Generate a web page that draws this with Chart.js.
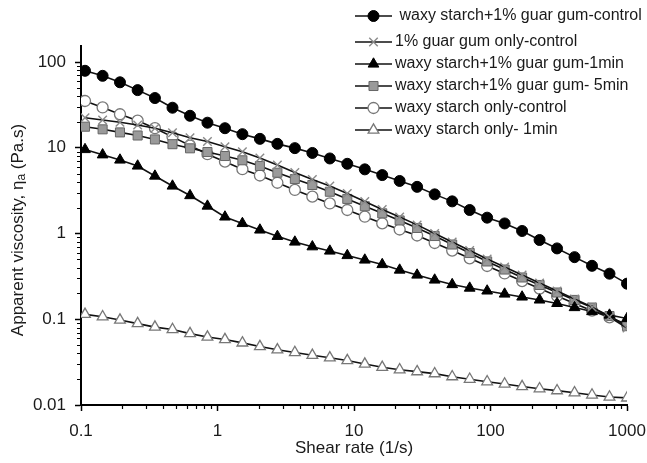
<!DOCTYPE html>
<html>
<head>
<meta charset="utf-8">
<script src="https://cdn.jsdelivr.net/npm/chart.js@4.4.0/dist/chart.umd.min.js"></script>
<style>
  body { margin: 0; background: #fff; }
  #wrap { width: 647px; height: 463px; }
</style>
</head>
<body>
<div id="wrap"><canvas id="viscosityChart" width="647" height="463"></canvas></div>
<script>
// shear rate (1/s)
const shearRate = [0.107, 0.144, 0.193, 0.260, 0.348, 0.468, 0.629, 0.844, 1.134, 1.522, 2.045, 2.746, 3.687, 4.953, 6.651, 8.93,
  12.0, 16.1, 21.6, 29.0, 39.0, 52.4, 70.4, 94.5, 126.9, 170.4, 228.8, 307.3, 412.7, 554.2, 744.3, 1000];

// apparent viscosity (Pa.s)
const waxyGuarControl = [79, 69, 58, 47, 38, 29.3, 23.6, 19.6, 16.9, 14.4, 12.7, 11.1, 9.9, 8.7, 7.5, 6.5,
  5.6, 4.8, 4.1, 3.5, 2.86, 2.37, 1.88, 1.53, 1.31, 1.07, 0.84, 0.67, 0.53, 0.42, 0.34, 0.26];
const guarOnlyControl = [22.4, 21.1, 19.8, 18.4, 16.9, 15.0, 13.1, 11.8, 10.3, 9.0, 7.6, 6.29, 5.14, 4.26, 3.58, 2.93,
  2.36, 1.91, 1.56, 1.26, 1.00, 0.796, 0.633, 0.504, 0.407, 0.328, 0.265, 0.214, 0.172, 0.139, 0.106, 0.079];
const waxyGuar1min = [9.54, 8.28, 7.20, 6.13, 4.68, 3.58, 2.77, 2.09, 1.56, 1.31, 1.10, 0.927, 0.796, 0.701, 0.625, 0.554,
  0.491, 0.435, 0.375, 0.328, 0.287, 0.254, 0.231, 0.214, 0.197, 0.182, 0.168, 0.153, 0.137, 0.123, 0.112, 0.102];
const waxyGuar5min = [17.6, 16.4, 15.1, 13.9, 12.5, 11.0, 9.85, 8.92, 8.01, 7.14, 6.13, 5.12, 4.32, 3.68, 3.07, 2.53,
  2.08, 1.72, 1.42, 1.16, 0.935, 0.744, 0.592, 0.472, 0.380, 0.307, 0.251, 0.205, 0.168, 0.137, 0.109, 0.083];
const waxyOnlyControl = [35.1, 29.5, 24.6, 20.7, 16.9, 13.4, 10.6, 8.41, 6.88, 5.62, 4.75, 3.91, 3.22, 2.69, 2.24, 1.88,
  1.57, 1.315, 1.113, 0.948, 0.775, 0.633, 0.514, 0.418, 0.342, 0.279, 0.228, 0.187, 0.153, 0.126, 0.105, 0.087];
const waxyOnly1min = [0.114, 0.107, 0.098, 0.089, 0.081, 0.076, 0.068, 0.062, 0.058, 0.053, 0.048, 0.044, 0.041, 0.038, 0.0355, 0.033,
  0.030, 0.0275, 0.0258, 0.0245, 0.0232, 0.0214, 0.020, 0.0187, 0.0176, 0.0164, 0.0155, 0.0147, 0.0139, 0.0131, 0.0124, 0.0121];

const seriesLabels = [
  ' waxy starch+1% guar gum-control',
  '1% guar gum only-control',
  'waxy starch+1% guar gum-1min',
  'waxy starch+1% guar gum- 5min',
  'waxy starch only-control',
  'waxy starch only- 1min'
];
const xTicks = [0.1, 1, 10, 100, 1000];
const yTicks = [0.01, 0.1, 1, 10, 100];

const FONT = "'Liberation Sans', Arial, sans-serif";

const toPoints = (vals) => vals.map((v, i) => ({ x: shearRate[i], y: v }));

// marker looks per series
const markers = [
  { pointStyle: 'circle', radius: 5.5, fill: '#000', stroke: '#000', bw: 1 },
  { pointStyle: 'crossRot', radius: 6, fill: '#999', stroke: '#8a8a8a', bw: 1.4 },
  { pointStyle: 'triangle', radius: 6.2, fill: '#000', stroke: '#000', bw: 1 },
  { pointStyle: 'rect', radius: 6.4, fill: '#9a9a9a', stroke: '#666', bw: 1 },
  { pointStyle: 'circle', radius: 5.5, fill: '#fff', stroke: '#777', bw: 1.3 },
  { pointStyle: 'triangle', radius: 6.2, fill: '#fff', stroke: '#777', bw: 1.3 }
];
const seriesValues = [waxyGuarControl, guarOnlyControl, waxyGuar1min, waxyGuar5min, waxyOnlyControl, waxyOnly1min];

const datasets = seriesValues.map((vals, i) => ({
  label: seriesLabels[i],
  data: toPoints(vals),
  borderColor: '#111',
  borderWidth: 1.6,
  tension: 0,
  pointStyle: markers[i].pointStyle,
  pointRadius: markers[i].radius,
  pointBackgroundColor: markers[i].fill,
  pointBorderColor: markers[i].stroke,
  pointBorderWidth: markers[i].bw
}));

// minor ticks, y title with subscript, and the legend in the corner
const extrasPlugin = {
  id: 'extras',
  afterDraw(chart) {
    const ctx = chart.ctx;
    const xs = chart.scales.x, ys = chart.scales.y;
    const area = chart.chartArea;
    ctx.save();
    ctx.strokeStyle = '#000';
    ctx.lineWidth = 1.2;
    ctx.beginPath();
    for (let d = -1; d <= 2; d++) {
      for (let m = 2; m <= 9; m++) {
        const px = Math.round(xs.getPixelForValue(m * Math.pow(10, d))) + 0.5;
        ctx.moveTo(px, area.bottom);
        ctx.lineTo(px, area.bottom + 4);
      }
    }
    for (let d = -2; d <= 1; d++) {
      for (let m = 2; m <= 9; m++) {
        const py = Math.round(ys.getPixelForValue(m * Math.pow(10, d))) + 0.5;
        ctx.moveTo(area.left - 4, py);
        ctx.lineTo(area.left, py);
      }
    }
    ctx.stroke();

    // y axis title
    ctx.fillStyle = '#1a1a1a';
    ctx.translate(18, 230);
    ctx.rotate(-Math.PI / 2);
    const big = '17px ' + FONT, small = '12px ' + FONT;
    const t1 = 'Apparent viscosity, \u03b7', t2 = 'a', t3 = ' (Pa.s)';
    ctx.font = big;
    const w1 = ctx.measureText(t1).width, w3 = ctx.measureText(t3).width;
    ctx.font = small;
    const w2 = ctx.measureText(t2).width;
    let tx = -(w1 + w2 + w3) / 2;
    ctx.textBaseline = 'middle';
    ctx.textAlign = 'left';
    ctx.font = big;
    ctx.fillText(t1, tx, 0);
    tx += w1;
    ctx.font = small;
    ctx.fillText(t2, tx, 4);
    tx += w2;
    ctx.font = big;
    ctx.fillText(t3, tx, 0);
    ctx.restore();

    // legend
    ctx.save();
    const rows = [16, 42, 64, 86, 108, 130];
    ctx.font = '16px ' + FONT;
    ctx.textBaseline = 'middle';
    ctx.textAlign = 'left';
    datasets.forEach((ds, i) => {
      const y = rows[i];
      ctx.strokeStyle = '#111';
      ctx.lineWidth = 1.6;
      ctx.beginPath();
      ctx.moveTo(355, y);
      ctx.lineTo(392, y);
      ctx.stroke();
      ctx.fillStyle = markers[i].fill;
      ctx.strokeStyle = markers[i].stroke;
      ctx.lineWidth = markers[i].bw;
      Chart.helpers.drawPoint(ctx, { pointStyle: markers[i].pointStyle, radius: markers[i].radius, rotation: 0, borderWidth: markers[i].bw }, 373.5, y);
      ctx.fillStyle = '#1a1a1a';
      ctx.fillText(ds.label, 395, y);
    });
    ctx.restore();
  }
};

new Chart(document.getElementById('viscosityChart'), {
  type: 'line',
  data: { datasets: datasets },
  options: {
    responsive: false,
    animation: false,
    layout: { padding: { left: 0, top: 46, right: 20, bottom: 0 } },
    plugins: { legend: { display: false }, tooltip: { enabled: false } },
    scales: {
      x: {
        type: 'logarithmic',
        min: 0.1,
        max: 1000,
        afterBuildTicks: (scale) => { scale.ticks = xTicks.map(v => ({ value: v })); },
        afterFit: (scale) => { scale.height = 58; scale.paddingLeft = 0; scale.paddingRight = 0; },
        border: { display: true, color: '#000', width: 2 },
        grid: { display: true, drawOnChartArea: false, drawTicks: true, tickLength: 6, tickColor: '#000', tickWidth: 1.5 },
        ticks: {
          autoSkip: false,
          maxRotation: 0,
          padding: 10,
          color: '#1a1a1a',
          font: { family: FONT, size: 17 },
          callback: (v) => String(v)
        },
        title: {
          display: true,
          text: 'Shear rate (1/s)',
          color: '#1a1a1a',
          font: { family: FONT, size: 17 },
          padding: { top: 0, bottom: 4 }
        }
      },
      y: {
        type: 'logarithmic',
        min: 0.01,
        max: 153.7,
        afterBuildTicks: (scale) => { scale.ticks = yTicks.map(v => ({ value: v })); },
        afterFit: (scale) => { scale.width = 81; scale.paddingTop = 0; scale.paddingBottom = 0; },
        border: { display: true, color: '#000', width: 2 },
        grid: { display: true, drawOnChartArea: false, drawTicks: true, tickLength: 6, tickColor: '#000', tickWidth: 1.5 },
        ticks: {
          autoSkip: false,
          padding: 9,
          color: '#1a1a1a',
          font: { family: FONT, size: 17 },
          callback: (v) => String(v)
        }
      }
    }
  },
  plugins: [extrasPlugin]
});
</script>
</body>
</html>
